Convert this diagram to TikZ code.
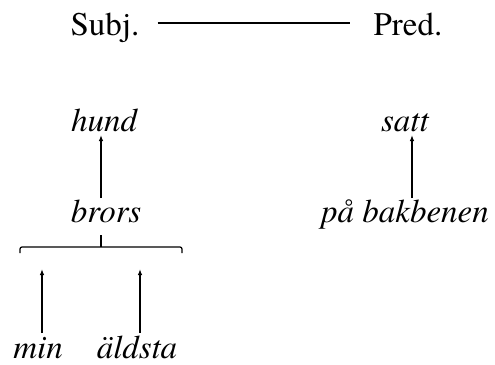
\documentclass[tikz,border=0pt]{standalone}
\usepackage{fontspec}
\setmainfont{texgyretermes}[Extension=.otf,UprightFont=*-regular,ItalicFont=*-italic]
\usetikzlibrary{arrows.meta}
\begin{document}
\begin{tikzpicture}[x=1pt,y=-1pt,
  word/.style={inner sep=0pt,anchor=base,font=\fontsize{33}{38}\selectfont},
  iword/.style={inner sep=0pt,anchor=base,font=\fontsize{33}{38}\selectfont\itshape},
  link/.style={line width=1.2pt},
  arr/.style={line width=1.2pt,-{Latex[length=6pt,width=4.5pt]}}]
\useasboundingbox (0,0) rectangle (495,364);
\node[word] (subj) at (105,35) {Subj.};
\node[word] (pred) at (408,35) {Pred.};
\node[iword] (hund) at (104,131) {hund};
\node[iword] (satt) at (405,131) {satt};
\node[iword] (brors) at (106,222) {brors};
\node[iword] (pa) at (405,222) {på bakbenen};
\node[iword] (min) at (38,358) {min};
\node[iword] (aldsta) at (137,358) {äldsta};
% Subj -- Pred
\draw[link] ([xshift=18pt,yshift=12pt]subj.base east) -- ([xshift=-23pt,yshift=12pt]pred.base west);
% arrows
\coordinate (bt) at (101,198);
\coordinate (ht) at (101,135);
\draw[arr] (bt) -- (ht);
\coordinate (pb) at (412,198);
\coordinate (st) at (412,135);
\draw[arr] (pb) -- (st);
% bracket
\coordinate (stub) at (101,235);
\coordinate (bm) at (101,247);
\coordinate (bl) at (20,253);
\coordinate (br) at (182,253);
\draw[link] (stub) -- (bm);
\draw[link,rounded corners=2pt] (bl) |- (bm) -| (br);
\coordinate (mb) at (42,333);
\coordinate (mt) at (42,269);
\coordinate (ab) at (140,333);
\coordinate (at2) at (140,269);
\draw[arr] (mb) -- (mt);
\draw[arr] (ab) -- (at2);
\end{tikzpicture}
\end{document}
